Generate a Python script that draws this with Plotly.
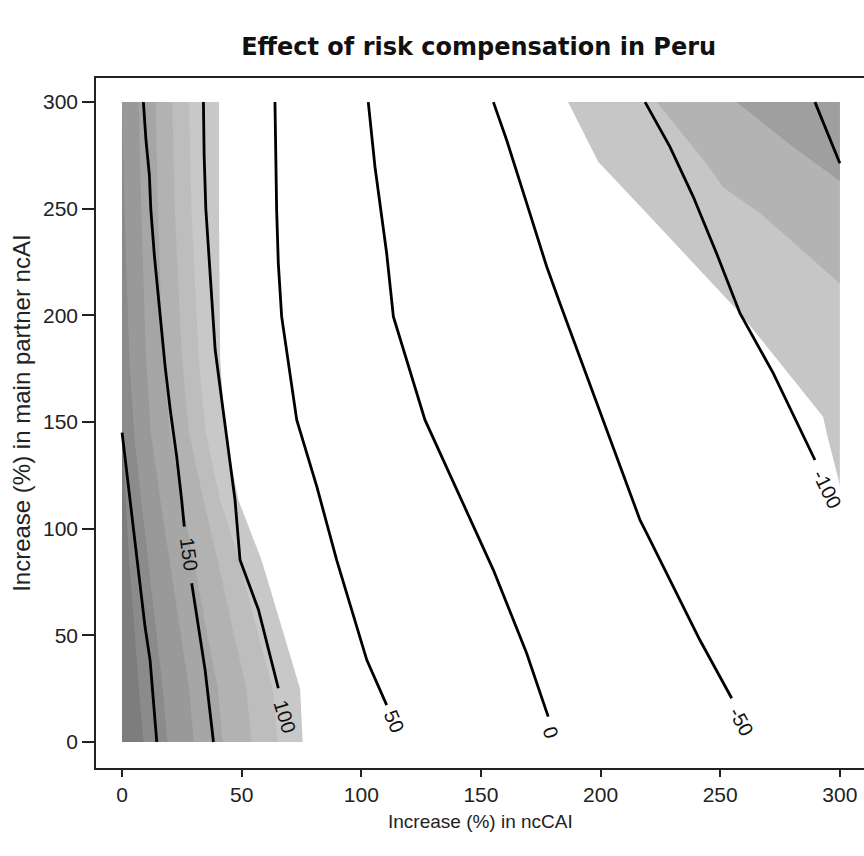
import plotly.graph_objects as go

# ---------------- data ----------------
X_TICKS = [0, 50, 100, 150, 200, 250, 300]
Y_TICKS = [0, 50, 100, 150, 200, 250, 300]

# contour lines (x = increase in ncCAI, y = increase in main partner ncAI)
C200_X = [0, 3.3, 6.1, 9.6, 11.7, 14.5]
C200_Y = [145, 113.5, 85.3, 54, 38.4, 0]
C150A_X = [8.9, 10.0, 11.4, 12.0, 13.5, 15.2, 18.0, 20.1, 22.8, 24.9, 26.0]
C150A_Y = [300, 282, 266, 250, 228, 207, 176, 156, 134, 113.5, 101]
C150B_X = [29.1, 31.9, 34.7, 38.2]
C150B_Y = [74.4, 54, 33.8, 0]
C100_X = [34.0, 34.3, 35.0, 37.5, 38.9, 41.7, 45.1, 47.2, 49.3, 57.0, 65.3]
C100_Y = [300, 275, 250, 207, 184, 160, 132, 113.5, 85.3, 62, 25.2]
C50_X = [63.9, 64.6, 65.3, 66.7, 73.0, 81.4, 89.7, 98.1, 102.3, 110.6]
C50_Y = [300, 249.4, 224.4, 199.4, 151, 119.7, 85.3, 54, 38.4, 17.3]
C0_X = [102.9, 105.7, 110.6, 113.4, 126.6, 141.2, 155.2, 169.1, 178.1]
C0_Y = [300, 269.7, 229, 199.4, 151, 115, 80.6, 41.6, 11.9]
CM50_X = [155.2, 160.8, 169.1, 177.5, 183.0, 201.1, 216.5, 219.3, 230.4, 241.5, 254.8]
CM50_Y = [300, 282, 252.6, 222.8, 205.7, 151, 104, 97.8, 72.8, 47.8, 20.5]
CM100_X = [218.6, 229.0, 238.7, 248.5, 258.3, 272.2, 289.6]
CM100_Y = [300, 279, 255.7, 229, 200.9, 172.8, 132.2]
CM150_X = [289.6, 300.0]
CM150_Y = [300, 271.3]

# contour labels: x, y, text, angle
LABEL_X = [27.8, 67.8, 113.6, 179.0, 259.0, 294.6]
LABEL_Y = [88, 12, 9.8, 4.5, 9.5, 118.5]
LABEL_TEXT = ["150", "100", "50", "0", "-50", "-100"]
LABEL_ANGLE = [82, 73, 66, 71, 61, 64]

# left shaded region: band boundaries at these y levels
BAND_Y = [0, 25, 54, 85, 113.5, 145, 180, 250, 300]
BAND_EDGES = [
    [75.5, 74.4, 66.7, 58.4, 48.6, 43.0, 41.0, 40.5, 40.5],
    [65, 63, 56, 49, 41, 35, 32, 29, 28],
    [54, 52, 46, 40, 34, 28, 25, 22, 21],
    [42, 40, 35, 30, 25, 20, 17, 15, 14],
    [30, 28, 24, 20, 16, 12, 10, 8, 7],
    [19, 17, 14, 11, 8, 5, 3, 1, 0],
    [9, 7, 5, 3, 1.5, 0, 0, 0, 0],
]
BAND_COLORS = ["#c8c8c8", "#bdbdbd", "#b2b2b2", "#a6a6a6", "#999999", "#8b8b8b", "#7d7d7d"]

# right shaded region polygons
R_LIGHT_X = [186.4, 199.0, 223.4, 258.3, 293.0, 294.5, 299.5, 300, 300]
R_LIGHT_Y = [300, 272, 243, 201, 152.5, 144.7, 122.8, 120, 300]
R_MID_X = [223.4, 244.4, 251.3, 266.6, 300, 300]
R_MID_Y = [300, 271, 260, 248, 215, 300]
R_DARK_X = [256.8, 280.5, 300, 300]
R_DARK_Y = [300, 279, 263, 300]
R_COLORS = ["#c6c6c6", "#b3b3b3", "#9f9f9f"]

TEXT_FONT = "Liberation Sans, Arial"

# ---------------- figure ----------------
fig = go.Figure()

for edge, col in zip(BAND_EDGES, BAND_COLORS):
    xs = [0] + edge + [0]
    ys = [0] + BAND_Y + [300]
    fig.add_trace(go.Scatter(x=xs, y=ys, fill="toself", fillcolor=col,
                             mode="lines", line=dict(width=0, color=col),
                             hoverinfo="skip", showlegend=False))

for xs, ys, col in [(R_LIGHT_X, R_LIGHT_Y, R_COLORS[0]),
                    (R_MID_X, R_MID_Y, R_COLORS[1]),
                    (R_DARK_X, R_DARK_Y, R_COLORS[2])]:
    fig.add_trace(go.Scatter(x=xs, y=ys, fill="toself", fillcolor=col,
                             mode="lines", line=dict(width=0, color=col),
                             hoverinfo="skip", showlegend=False))

for xs, ys in [(C200_X, C200_Y), (C150A_X, C150A_Y), (C150B_X, C150B_Y),
               (C100_X, C100_Y), (C50_X, C50_Y), (C0_X, C0_Y),
               (CM50_X, CM50_Y), (CM100_X, CM100_Y), (CM150_X, CM150_Y)]:
    fig.add_trace(go.Scatter(x=xs, y=ys, mode="lines",
                             line=dict(color="black", width=2.8),
                             hoverinfo="skip", showlegend=False))

for lx, ly, lt, la in zip(LABEL_X, LABEL_Y, LABEL_TEXT, LABEL_ANGLE):
    fig.add_annotation(x=lx, y=ly, text=lt, textangle=la, showarrow=False,
                       font=dict(family=TEXT_FONT, size=20, color="#111"))

axis_common = dict(showgrid=False, zeroline=False, showline=True, linecolor="#222",
                   linewidth=1.5, mirror=True, ticks="outside",
                   tickwidth=1.5, tickcolor="#222", automargin=False,
                   tickfont=dict(family=TEXT_FONT, size=21, color="#222"))

fig.update_xaxes(range=[-10.9, 310.1], tickvals=X_TICKS, ticklen=7, **axis_common)
fig.update_yaxes(range=[-12.2, 311.3], tickvals=Y_TICKS, ticklen=12, **axis_common)

# axis titles
fig.add_annotation(text="Increase (%) in ncCAI", xref="paper", yref="paper",
                   x=0.5, y=-0.077, xanchor="center", yanchor="middle", showarrow=False,
                   font=dict(family=TEXT_FONT, size=19, color="#222"))
fig.add_annotation(text="Increase (%) in main partner ncAI", xref="paper", yref="paper",
                   x=-0.097, y=0.514, xanchor="center", yanchor="middle", showarrow=False,
                   textangle=-90,
                   font=dict(family=TEXT_FONT, size=24, color="#222"))

fig.update_layout(
    width=864, height=856,
    margin=dict(l=96, r=0, t=78, b=88),
    paper_bgcolor="white", plot_bgcolor="white",
    title=dict(text="<b>Effect of risk compensation in Peru</b>",
               x=0.554, xanchor="center", y=0.945, yanchor="middle",
               font=dict(family="DejaVu Sans", size=24, color="#111")),
)

fig.write_html("out.html", config={"displayModeBar": False},
               post_script="document.body.style.margin='0';document.body.style.overflow='hidden';")
